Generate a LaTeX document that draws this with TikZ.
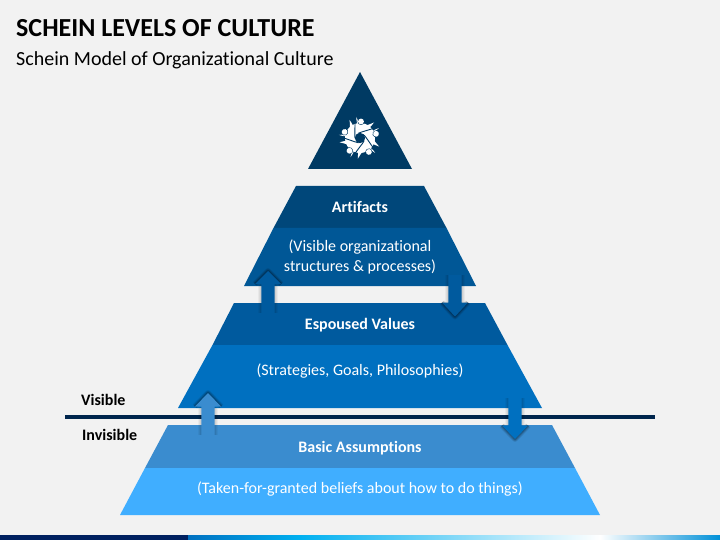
\documentclass[tikz,border=0pt]{standalone}
\usepackage{fontspec}
\setmainfont{Carlito}[Ligatures=NoCommon]
\usetikzlibrary{calc}
\definecolor{bgc}{HTML}{F2F2F2}
\definecolor{navy}{HTML}{003A63}
\definecolor{aone}{HTML}{00477A}
\definecolor{atwo}{HTML}{005796}
\definecolor{eone}{HTML}{005A9E}
\definecolor{etwo}{HTML}{0070C0}
\definecolor{bone}{HTML}{3A8CCF}
\definecolor{btwo}{HTML}{40AEFF}
\definecolor{rulec}{HTML}{00264D}
\definecolor{footd}{HTML}{002060}
\definecolor{footc}{HTML}{00B0F0}
\definecolor{foote}{HTML}{0090D8}
\tikzset{
  x=1pt,y=-1pt,
  lbl/.style={text=white,font=\bfseries\fontsize{16}{19}\selectfont,align=center,inner sep=0pt},
  desc/.style={text=white,font=\fontsize{16}{19.5}\selectfont,align=center,inner sep=0pt},
  sidelbl/.style={text=black,font=\bfseries\fontsize{16}{19}\selectfont,inner sep=0pt,anchor=west},
}
% arrow: centre x, tail y, head base y, tip y, colour
\newcommand{\blockarrow}[5]{%
  \foreach \w/\o in {3/0.04,2/0.05,1/0.06}{%
    \fill[black,opacity=\o] (#1-6.6-\w,#2) rectangle (#1+6.6+\w,#3);
  }%
  \foreach \w/\o in {6/0.08,4.5/0.10,3/0.13,1.5/0.16}{%
    \draw[black,opacity=\o,line width=\w pt,line join=round] (#1-13,#3) -- (#1,#4) -- (#1+13,#3);
  }%
  \fill[#5] (#1-6.6,#2) -- (#1-6.6,#3) -- (#1-13,#3) -- (#1,#4) -- (#1+13,#3) -- (#1+6.6,#3) -- (#1+6.6,#2) -- cycle;
}
\begin{document}
\begin{tikzpicture}
\useasboundingbox (0,0) rectangle (720,540);
\fill[bgc] (0,0) rectangle (720,540);
% title
\node[anchor=west,inner sep=0pt,font=\bfseries\fontsize{26}{30}\selectfont,text=black] (title) at (16,28.5) {SCHEIN LEVELS OF CULTURE};
\node[anchor=west,inner sep=0pt,font=\fontsize{20}{24}\selectfont,text=black] (subtitle) at (16,60.5) {Schein Model of Organizational Culture};
% pyramid
\fill[navy] (360,72) -- (412,169) -- (308,169) -- cycle;
\fill[aone] (296,186) -- (424,186) -- (446.5,228) -- (273.5,228) -- cycle;
\fill[atwo] (273.5,228) -- (446.5,228) -- (476,286) -- (244,286) -- cycle;
\fill[eone] (234,303) -- (485,303) -- (507.5,345) -- (212.5,345) -- cycle;
\fill[etwo] (212.5,345) -- (507.5,345) -- (542,408) -- (178,408) -- cycle;
\fill[bone] (168,425) -- (552,425) -- (575,468) -- (145,468) -- cycle;
\fill[btwo] (145,468) -- (575,468) -- (600,515) -- (120,515) -- cycle;
% icon
\begin{scope}[shift={(360,138)}]
\fill[white] (0,0) circle (15);
\foreach \a in {0,72,144,216,288}{
  \begin{scope}[rotate=\a]
  \fill[white] (-3.5,-21) .. controls (-3.8,-17) and (-3,-14) .. (-1,-11)
     -- (8,-9) .. controls (10,-11) and (12.5,-13) .. (14,-15.5)
     .. controls (9,-13.5) and (6,-12) .. (3,-12.5)
     .. controls (0,-13) and (-2,-16) .. cycle;
  \end{scope}
}
\foreach \a in {0,72,144,216,288}{
  \begin{scope}[rotate=\a]
  \draw[navy,line width=0.9pt,line cap=round] (-1.5,-4.8) .. controls (3,-6.8) and (8,-7.5) .. (15.5,-10.5);
  \fill[navy] (1,-16.5) circle (3.5);
  \fill[white] (1,-16.5) circle (2.9);
  \end{scope}
}
\fill[navy] (0,0) circle (5.2);
\end{scope}
% rule
\draw[rulec,line width=3.6pt] (65,416.7) -- (655,416.7);
% arrows
\blockarrow{268}{313}{284}{271}{eone}
\blockarrow{455}{275}{302.5}{316.5}{eone}
\blockarrow{208}{435}{406.5}{393}{bone}
\blockarrow{515}{398}{425.5}{439}{etwo}
% labels
\node[lbl] (art) at (360,206.5) {Artifacts};
\node[desc] (artd) at (360,257) {(Visible organizational\\structures \& processes)};
\node[lbl] (esp) at (360,325) {Espoused Values};
\node[desc] (espd) at (360,371.5) {(Strategies, Goals, Philosophies)};
\node[lbl] (bas) at (360,448.5) {Basic Assumptions};
\node[desc] (basd) at (360,489.5) {(Taken-for-granted beliefs about how to do things)};
\node[sidelbl] (vis) at (81,399.5) {Visible};
\node[sidelbl] (inv) at (82,435) {Invisible};
% footer
\fill[footd] (0,535) rectangle (188,540);
\shade[left color=etwo,right color=footc] (188,535) rectangle (300,540);
\shade[left color=footc,right color=white] (300,535) rectangle (600,540);
\shade[left color=white,right color=foote] (600,535) rectangle (720,540);
\end{tikzpicture}
\end{document}
